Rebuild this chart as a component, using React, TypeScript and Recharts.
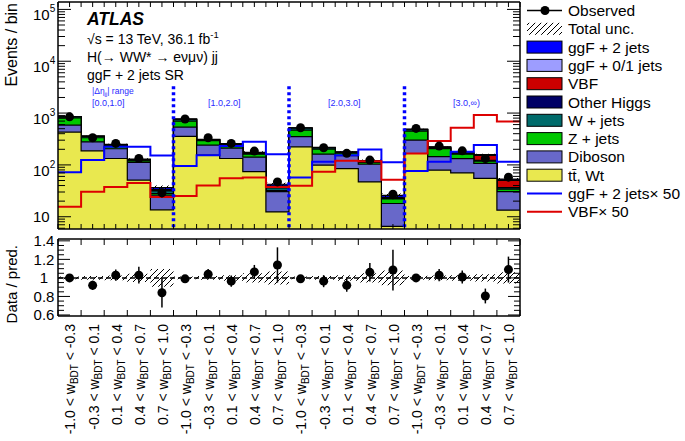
import React from "react";
import {
  ComposedChart,
  Area,
  Line,
  Scatter,
  XAxis,
  YAxis,
  ReferenceLine,
  ErrorBar,
} from "recharts";

// w_BDT bin ranges, 5 bins in each of the 4 |Δη_jj| regions
const binLow = ["-1.0", "-0.3", "0.1", "0.4", "0.7", "-1.0", "-0.3", "0.1", "0.4", "0.7", "-1.0", "-0.3", "0.1", "0.4", "0.7", "-1.0", "-0.3", "0.1", "0.4", "0.7"];
const binHigh = ["-0.3", "0.1", "0.4", "0.7", "1.0", "-0.3", "0.1", "0.4", "0.7", "1.0", "-0.3", "0.1", "0.4", "0.7", "1.0", "-0.3", "0.1", "0.4", "0.7", "1.0"];
const regionLabels = ["[0.0,1.0]", "[1.0,2.0]", "[2.0,3.0]", "[3.0,\u221E)"];

// stacked backgrounds / signals (events per bin)
const ttbar = [430, 187, 133, 51, 13.6, 355, 154, 133, 74, 12.4, 223, 99, 85, 47, 6.5, 166, 79, 70, 55, 13.4];
const diboson = [156, 92, 72, 61, 12.4, 182, 87, 78, 67, 18.1, 129, 62, 66, 56, 11.5, 135, 65, 62, 52, 17.1];
const zjets = [225, 55, 27, 8, 2, 163, 54, 30, 20, 1.5, 118, 41, 18, 8, 4, 149, 62, 29, 11, 3.5];
const wjets = [38, 20, 10, 2, 3.5, 55, 8, 8, 4, 4, 40, 10, 3, 1.5, 0.3, 30, 6, 3, 3, 2];
const otherHiggs = [1, 0.8, 0.8, 0.5, 0.4, 1, 0.8, 0.8, 0.5, 0.6, 1, 0.8, 0.6, 0.5, 0.2, 1, 0.8, 0.8, 2, 0.5];
const vbf = [0.3, 0.6, 0.8, 1, 1, 0.5, 0.8, 1.1, 1.2, 2, 0.8, 1.5, 2.4, 3.5, 1, 3.3, 5.8, 10, 30, 14];
const ggf01 = [3, 2, 2, 1, 0.5, 3, 2, 2, 1.5, 0.5, 2, 1.5, 1, 0.6, 0.2, 1.5, 1, 0.8, 0.6, 0.2];
const ggf2 = [1.4, 2.5, 4.5, 4.5, 3, 1.9, 3, 4.6, 5.6, 3.2, 1.1, 2.3, 3.1, 4, 2.2, 1.5, 2.3, 3.6, 4.8, 2.3];

const observed = [845, 334, 260, 133, 29, 770, 334, 260, 185, 47, 520, 214, 167, 124, 27.3, 506, 231, 187, 133, 58];
const ggf2x50 = [72, 125, 223, 223, 152, 95, 154, 231, 279, 161, 57, 115, 154, 199, 112, 76, 115, 179, 241, 115];
const vbfx50 = [15.6, 30.5, 37.6, 45, 24, 25, 40, 55, 57, 37.6, 39.4, 74, 120, 118, 52, 166, 288, 520, 915, 690];

// lower panel
const ratio = [1.0, 0.92, 1.03, 1.03, 0.84, 0.99, 1.04, 0.965, 1.065, 1.14, 0.99, 0.965, 0.92, 1.06, 1.085, 1.0, 1.03, 1.01, 0.805, 1.09];
const ratioErr = [0.035, 0.05, 0.06, 0.09, 0.16, 0.035, 0.055, 0.06, 0.075, 0.19, 0.04, 0.065, 0.07, 0.1, 0.22, 0.04, 0.065, 0.07, 0.08, 0.14];
const totalUnc = [0.015, 0.02, 0.025, 0.045, 0.095, 0.015, 0.02, 0.03, 0.05, 0.07, 0.015, 0.02, 0.03, 0.05, 0.08, 0.02, 0.025, 0.03, 0.04, 0.06];

const FONT = "'Liberation Sans', Arial, Helvetica, sans-serif";
const W = 685;
const H = 441;
const PL = 58;
const PR = 520;
const BIN = (PR - PL) / 20;
const TOP1 = 2;
const BOT1 = 229;
const Y_MIN = 5.8;
const Y_MAX = 139000;
// lower panel svg starts at C2_TOP; plot spans 239..316 on the page
const C2_TOP = 229;
const C2_H = H - C2_TOP;
const PT2 = 239 - C2_TOP;
const PB2 = 316 - C2_TOP;
const R_MIN = 0.589;
const R_MAX = 1.42;

const stack = [
  { key: "tt", name: "t\u0074\u0304, Wt", values: ttbar, color: "#e9e84f" },
  { key: "vv", name: "Diboson", values: diboson, color: "#6868c9" },
  { key: "zj", name: "Z + jets", values: zjets, color: "#00c800" },
  { key: "wj", name: "W + jets", values: wjets, color: "#006b6b" },
  { key: "oh", name: "Other Higgs", values: otherHiggs, color: "#000066" },
  { key: "vbf", name: "VBF", values: vbf, color: "#cc0000" },
  { key: "g01", name: "ggF + 0/1 jets", values: ggf01, color: "#9d9dff" },
  { key: "g2", name: "ggF + 2 jets", values: ggf2, color: "#0000ff" },
];

// rows at every half bin so step areas reach the bin edges
const rows = Array.from({ length: 41 }, (_, k) => {
  const x = k / 2;
  const i = Math.min(Math.floor(x), 19);
  const r: any = { x };
  let c = 0;
  stack.forEach((s) => {
    c += s.values[i];
    r[s.key] = c;
  });
  r.band = [c * (1 - totalUnc[i]), c * (1 + totalUnc[i])];
  r.rband = [1 - totalUnc[i], 1 + totalUnc[i]];
  r.ggfLine = ggf2x50[i];
  r.vbfLine = vbfx50[i];
  return r;
});

const obsPts = observed.map((v, i) => ({ x: i + 0.5, y: v, e: (ratioErr[i] * v) / ratio[i] }));
const ratioPts = ratio.map((v, i) => ({ x: i + 0.5, y: v, e: ratioErr[i] }));

const logTicks: number[] = [];
for (let e = 0; e <= 5; e++) {
  for (let m = 1; m <= 9; m++) {
    const v = m * Math.pow(10, e);
    if (v >= Y_MIN && v <= Y_MAX) logTicks.push(v);
  }
}
const ratioTicks = [0.6, 0.65, 0.7, 0.75, 0.8, 0.85, 0.9, 0.95, 1, 1.05, 1.1, 1.15, 1.2, 1.25, 1.3, 1.35, 1.4];
const xTicksTop = Array.from({ length: 41 }, (_, k) => k / 2);
const xTicksBottom = Array.from({ length: 21 }, (_, k) => k);

function LogTick(props: any) {
  const { y, payload } = props;
  const v = payload.value;
  const e = Math.round(Math.log10(v));
  const major = Math.abs(v / Math.pow(10, e) - 1) < 1e-9;
  const len = major ? 13 : 7;
  return (
    <g>
      <line x1={PL} x2={PL + len} y1={y} y2={y} stroke="#000" strokeWidth={1} />
      <line x1={PR - len} x2={PR} y1={y} y2={y} stroke="#000" strokeWidth={1} />
      {major && (
        <text x={33} y={y + (e > 1 ? 11 : 5.5)} fontSize={15} fontFamily={FONT} fill="#000">
          10
          {e > 1 && (
            <tspan dy={-8} fontSize={10}>
              {e}
            </tspan>
          )}
        </text>
      )}
    </g>
  );
}

function RatioTick(props: any) {
  const { y, payload } = props;
  const v = payload.value;
  const major = Math.abs(Math.round(v * 5) - v * 5) < 1e-6;
  const len = major ? 12 : 6;
  return (
    <g>
      <line x1={PL} x2={PL + len} y1={y} y2={y} stroke="#000" strokeWidth={1} />
      <line x1={PR - len} x2={PR} y1={y} y2={y} stroke="#000" strokeWidth={1} />
      {major && (
        <text x={44} y={y + 5.5} textAnchor="middle" fontSize={15} fontFamily={FONT} fill="#000">
          {Math.abs(v - 1) < 1e-6 ? "1" : v.toFixed(1)}
        </text>
      )}
    </g>
  );
}

function XTickTop(props: any) {
  const { x } = props;
  return (
    <g>
      <line x1={x} x2={x} y1={BOT1} y2={BOT1 - 5} stroke="#000" strokeWidth={1} />
      <line x1={x} x2={x} y1={TOP1} y2={TOP1 + 5} stroke="#000" strokeWidth={1} />
    </g>
  );
}

function XTickBottom(props: any) {
  const { x, payload } = props;
  const i = payload.value;
  return (
    <g>
      <line x1={x} x2={x} y1={PB2} y2={PB2 - 6} stroke="#000" strokeWidth={1} />
      <line x1={x} x2={x} y1={PT2} y2={PT2 + 6} stroke="#000" strokeWidth={1} />
      {i < 20 && (
        <text
          transform={`translate(${x + BIN / 2 + 1}, ${PB2 + 8}) rotate(-90)`}
          textAnchor="end"
          dy="0.35em"
          fontSize={14}
          fontFamily={FONT}
          fill="#000"
        >
          {`${binLow[i]} < w`}
          <tspan fontSize={10} dy={3}>
            BDT
          </tspan>
          <tspan dy={-3}>{` < ${binHigh[i]}`}</tspan>
        </text>
      )}
    </g>
  );
}

const dot = (p: any) => <circle cx={p.cx} cy={p.cy} r={4.5} fill="#000" />;

const legendItems = [
  { kind: "obs", label: "Observed" },
  { kind: "unc", label: "Total unc." },
  ...stack
    .slice()
    .reverse()
    .map((s) => ({ kind: "box", label: s.name, color: s.color })),
  { kind: "line", label: "ggF + 2 jets\u00D7 50", color: "#0000ff" },
  { kind: "line", label: "VBF\u00D7 50", color: "#dd0000" },
];

export default function App() {
  const axisLine = { stroke: "#000", strokeWidth: 1.5 };
  return (
    <div style={{ position: "relative", width: W, height: H, background: "#fff", overflow: "hidden", fontFamily: FONT }}>
      <style>{`body{margin:0}`}</style>

      <div style={{ position: "absolute", left: 0, top: 0 }}>
        <ComposedChart width={W} height={231} data={rows} margin={{ top: TOP1, right: W - PR, bottom: 1, left: 0 }}>
          <defs>
            <pattern id="hatchTop" width="6" height="6" patternUnits="userSpaceOnUse">
              <path d="M0,6 L6,0" stroke="#000" strokeWidth="1" />
            </pattern>
          </defs>
          <XAxis
            dataKey="x"
            type="number"
            domain={[0, 20]}
            allowDataOverflow
            ticks={xTicksTop}
            interval={0}
            tick={XTickTop}
            tickLine={false}
            axisLine={axisLine}
            height={1}
          />
          <YAxis
            type="number"
            scale="log"
            domain={[Y_MIN, Y_MAX]}
            allowDataOverflow
            ticks={logTicks}
            interval={0}
            tick={LogTick}
            tickLine={false}
            axisLine={axisLine}
            width={PL}
          />
          {stack
            .slice()
            .reverse()
            .map((s) => (
              <Area
                key={s.key}
                type="stepAfter"
                dataKey={s.key}
                fill={s.color}
                fillOpacity={1}
                stroke="#000"
                strokeWidth={1.2}
                baseValue={Y_MIN}
                dot={false}
                activeDot={false}
                isAnimationActive={false}
              />
            ))}
          <Area
            type="stepAfter"
            dataKey="band"
            fill="url(#hatchTop)"
            fillOpacity={1}
            stroke="none"
            dot={false}
            activeDot={false}
            isAnimationActive={false}
          />
          <Line type="stepAfter" dataKey="ggfLine" stroke="#0000ff" strokeWidth={2} dot={false} activeDot={false} isAnimationActive={false} />
          <Line type="stepAfter" dataKey="vbfLine" stroke="#dd0000" strokeWidth={2} dot={false} activeDot={false} isAnimationActive={false} />
          {[5, 10, 15].map((x) => (
            <ReferenceLine
              key={x}
              segment={[
                { x, y: 3300 },
                { x, y: Y_MIN },
              ]}
              stroke="#0000ff"
              strokeWidth={3.5}
              strokeDasharray="3 3"
            />
          ))}
          <ReferenceLine y={Y_MAX} stroke="#000" strokeWidth={1.5} />
          <ReferenceLine x={20} stroke="#000" strokeWidth={1.5} />
          <Scatter data={obsPts} dataKey="y" shape={dot} isAnimationActive={false}>
            <ErrorBar dataKey="e" direction="y" width={0} stroke="#000" strokeWidth={1.5} />
          </Scatter>
        </ComposedChart>
      </div>

      <div style={{ position: "absolute", left: 0, top: C2_TOP }}>
        <ComposedChart width={W} height={C2_H} data={rows} margin={{ top: PT2, right: W - PR, bottom: 0, left: 0 }}>
          <defs>
            <pattern id="hatchRatio" width="6" height="6" patternUnits="userSpaceOnUse">
              <path d="M0,6 L6,0" stroke="#000" strokeWidth="1" />
            </pattern>
          </defs>
          <XAxis
            dataKey="x"
            type="number"
            domain={[0, 20]}
            allowDataOverflow
            ticks={xTicksBottom}
            interval={0}
            tick={XTickBottom}
            tickLine={false}
            axisLine={axisLine}
            height={C2_H - PB2}
          />
          <YAxis
            type="number"
            domain={[R_MIN, R_MAX]}
            allowDataOverflow
            ticks={ratioTicks}
            interval={0}
            tick={RatioTick}
            tickLine={false}
            axisLine={axisLine}
            width={PL}
          />
          <Area
            type="stepAfter"
            dataKey="rband"
            fill="url(#hatchRatio)"
            fillOpacity={1}
            stroke="none"
            dot={false}
            activeDot={false}
            isAnimationActive={false}
          />
          <ReferenceLine y={1} stroke="#000" strokeWidth={1.5} strokeDasharray="5 3" />
          <ReferenceLine y={R_MAX} stroke="#000" strokeWidth={1.5} />
          <ReferenceLine x={20} stroke="#000" strokeWidth={1.5} />
          <Scatter data={ratioPts} dataKey="y" shape={dot} isAnimationActive={false}>
            <ErrorBar dataKey="e" direction="y" width={0} stroke="#000" strokeWidth={1.5} />
          </Scatter>
        </ComposedChart>
      </div>

      <svg width={W} height={H} style={{ position: "absolute", left: 0, top: 0, pointerEvents: "none" }} fontFamily={FONT}>
        <defs>
          <pattern id="hatchLeg" width="6" height="6" patternUnits="userSpaceOnUse">
            <path d="M0,6 L6,0" stroke="#000" strokeWidth="1" />
          </pattern>
        </defs>
        <text transform="translate(17, 3) rotate(-90)" textAnchor="end" fontSize={16} fill="#000">
          Events / bin
        </text>
        <text transform="translate(17, 245) rotate(-90)" textAnchor="end" fontSize={15} fill="#000">
          Data / pred.
        </text>

        <text x={87} y={25} fontSize={17.5} fontWeight="bold" fontStyle="italic" fill="#000">
          ATLAS
        </text>
        <text x={87} y={44} fontSize={14} fill="#000">
          {"\u221As = 13 TeV, 36.1 fb"}
          <tspan dy={-6} fontSize={9.5}>
            -1
          </tspan>
        </text>
        <text x={87} y={62} fontSize={14} fill="#000">
          {"H(\u2192 WW* \u2192 e\u03BD\u03BC\u03BD) jj"}
        </text>
        <text x={87} y={80} fontSize={14} fill="#000">
          ggF + 2 jets SR
        </text>

        <text x={92} y={94} fontSize={8.5} fill="#2a2aff">
          {"|\u0394\u03B7"}
          <tspan fontSize={6} dy={2}>
            jj
          </tspan>
          <tspan dy={-2}>| range</tspan>
        </text>
        {regionLabels.map((t, r) => (
          <text key={t} x={[92, 208, 328, 453][r]} y={106} fontSize={9} fill="#2a2aff">
            {t}
          </text>
        ))}

        {legendItems.map((it: any, k) => {
          const cy = 10.5 + k * 18.3;
          return (
            <g key={it.label}>
              {it.kind === "obs" && (
                <g>
                  <line x1={527} x2={562} y1={cy} y2={cy} stroke="#000" strokeWidth={1.5} />
                  <circle cx={545} cy={cy} r={4.5} fill="#000" />
                </g>
              )}
              {it.kind === "unc" && <rect x={527} y={cy - 6} width={35} height={12} fill="url(#hatchLeg)" />}
              {it.kind === "box" && (
                <rect x={527} y={cy - 6} width={35} height={12} fill={it.color} stroke="#000" strokeWidth={1} />
              )}
              {it.kind === "line" && <line x1={527} x2={562} y1={cy} y2={cy} stroke={it.color} strokeWidth={2} />}
              <text x={568} y={cy + 5.5} fontSize={15.5} fill="#000">
                {it.label}
              </text>
            </g>
          );
        })}
      </svg>
    </div>
  );
}
